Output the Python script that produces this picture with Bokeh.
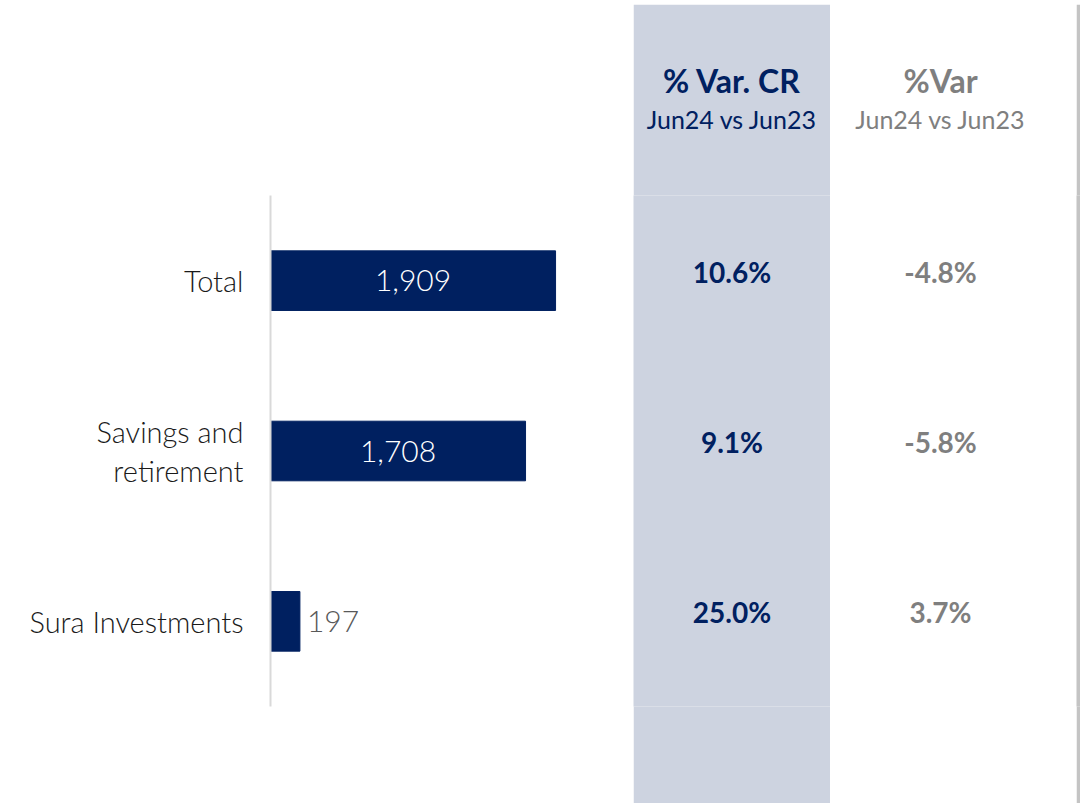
from bokeh.plotting import figure
from bokeh.models import FactorRange, Range1d, Title, Spacer
from bokeh.layouts import row, column
from bokeh.core.properties import value
from bokeh.embed import file_html
from bokeh.resources import INLINE

# ---- data ----
categories = ["Total", "Savings and\nretirement", "Sura Investments"]
amounts = [1909, 1708, 197]
amount_labels = ["1,909", "1,708", "197"]
var_cr = ["10.6%", "9.1%", "25.0%"]
var_pct = ["-4.8%", "-5.8%", "3.7%"]
col1_title = "% Var. CR"
col2_title = "%Var"
col_subtitle = "Jun24 vs Jun23"

NAVY = "#002060"
BAND = "#CDD3E0"
GRAY = "#7F7F7F"
FONT = "Lato"
LIGHT = "Lato Light, Lato"

H = 799
TOP, BOTTOM = 191, 97

yr = FactorRange(factors=categories[::-1])

def blank(width, bg):
    p = figure(width=width, height=H, output_backend="svg", toolbar_location=None,
               min_border=0, x_axis_location=None, y_axis_location=None,
               background_fill_color=bg, border_fill_color=bg)
    p.outline_line_color = None
    p.grid.grid_line_color = None
    return p

def base(width, bg="white", x_range=None, **kw):
    p = figure(width=width, height=H, y_range=yr, x_range=x_range or Range1d(0, 1),
               output_backend="svg", toolbar_location=None,
               min_border_top=TOP, min_border_bottom=BOTTOM, min_border_left=0, min_border_right=0,
               background_fill_color=bg, border_fill_color=bg, **kw)
    p.outline_line_color = None
    p.grid.grid_line_color = None
    return p

# ---- bar panel ----
p1 = base(633, x_range=Range1d(0, 2431))
p1.min_border_left = 270
p1.hbar(y=categories, right=amounts, height=0.35, fill_color=NAVY, line_color=NAVY)
p1.xaxis.visible = False
ax = p1.yaxis[0]
ax.axis_line_color = "#D9D9D9"
ax.axis_line_width = 2
ax.major_tick_line_color = None
ax.minor_tick_line_color = None
ax.major_label_standoff = 21
ax.major_label_text_font = LIGHT
ax.major_label_text_font_size = "29px"
ax.major_label_text_line_height = 1.1
ax.major_label_text_color = "#1A1A1A"

in_idx = [i for i, v in enumerate(amounts) if v >= 500]
out_idx = [i for i, v in enumerate(amounts) if v < 500]
p1.text(x=[amounts[i] / 2 for i in in_idx], y=[categories[i] for i in in_idx],
        text=[amount_labels[i] for i in in_idx], text_align="center", text_baseline="middle",
        text_color="white", text_font=value(LIGHT), text_font_size="30px")
p1.text(x=[amounts[i] for i in out_idx], y=[categories[i] for i in out_idx],
        text=[amount_labels[i] for i in out_idx], text_align="left", text_baseline="middle",
        x_offset=7, text_color="#595959", text_font=value(LIGHT), text_font_size="30px")

# ---- column panels ----
def var_column(width, bg, color, title, vals):
    p = base(width, bg=bg, x_axis_location=None, y_axis_location=None)
    p.add_layout(Title(text=col_subtitle, align="center", text_font=FONT, text_font_size="25px",
                       text_font_style="normal", text_color=color, standoff=124), "above")
    p.add_layout(Title(text=title, align="center", text_font=FONT, text_font_size="32px",
                       text_font_style="bold", text_color=color, standoff=-120), "above")
    p.text(x=[0.5] * len(vals), y=categories, text=vals, text_align="center", text_baseline="middle",
           y_offset=-9, text_color=color, text_font=value(FONT), text_font_size="28px",
           text_font_style="bold")
    return p

p2 = var_column(197, BAND, NAVY, col1_title, var_cr)
p3 = var_column(220, "white", GRAY, col2_title, var_pct)
p_gap = blank(26, "white")
p_shadow = blank(4, "#C4C4C4")

layout = column(Spacer(height=4), row(p1, p2, p3, p_gap, p_shadow))
open("out.html", "w").write(file_html(layout, INLINE))
